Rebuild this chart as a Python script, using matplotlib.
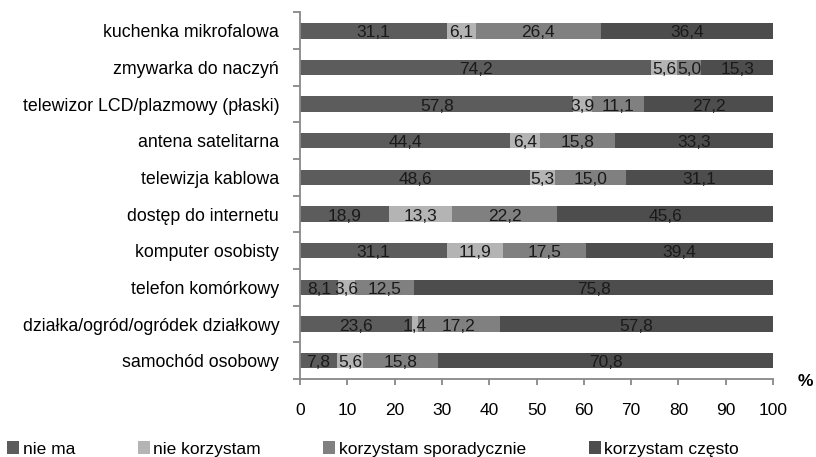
import matplotlib
matplotlib.use("Agg")
import matplotlib.pyplot as plt
import numpy as np
from matplotlib.patches import Patch

categories = ['kuchenka mikrofalowa', 'zmywarka do naczyń', 'telewizor LCD/plazmowy (płaski)',
              'antena satelitarna', 'telewizja kablowa', 'dostęp do internetu',
              'komputer osobisty', 'telefon komórkowy', 'działka/ogród/ogródek działkowy',
              'samochód osobowy']
nie_ma = [31.1, 74.2, 57.8, 44.4, 48.6, 18.9, 31.1, 8.1, 23.6, 7.8]
nie_korzystam = [6.1, 5.6, 3.9, 6.4, 5.3, 13.3, 11.9, 3.6, 1.4, 5.6]
sporadycznie = [26.4, 5.0, 11.1, 15.8, 15.0, 22.2, 17.5, 12.5, 17.2, 15.8]
czesto = [36.4, 15.3, 27.2, 33.3, 31.1, 45.6, 39.4, 75.8, 57.8, 70.8]
series_names = ['nie ma', 'nie korzystam', 'korzystam sporadycznie', 'korzystam często']
x_ticks = [0, 10, 20, 30, 40, 50, 60, 70, 80, 90, 100]

colors = ['#5c5c5c', '#b4b4b4', '#808080', '#4d4d4d']
series = [nie_ma, nie_korzystam, sporadycznie, czesto]

plt.rcParams['font.family'] = ['Liberation Sans', 'DejaVu Sans']

fig = plt.figure(figsize=(8.16, 4.57), dpi=100)
ax = fig.add_axes([300/816, 78/457, 473/816, 366.5/457])

y = np.arange(len(categories))
left = np.zeros(len(categories))
for vals, col, name in zip(series, colors, series_names):
    vals = np.array(vals)
    ax.barh(y, vals, left=left, height=0.42, color=col, label=name, linewidth=0)
    for yi, l, v in zip(y, left, vals):
        ax.annotate(f"{v:.1f}".replace('.', ','), (l + v / 2, yi), xytext=(0, -1.5),
                    textcoords='offset points', ha='center', va='center',
                    fontsize=12.5, color='#1a1a1a')
    left += vals

ax.set_xlim(0, 100)
ax.set_ylim(len(categories) - 0.5, -0.5)

spine_col = '#888888'
for s in ['top', 'right']:
    ax.spines[s].set_visible(False)
for s in ['left', 'bottom']:
    ax.spines[s].set_color(spine_col)
    ax.spines[s].set_linewidth(1.3)

ax.set_xticks(x_ticks)
ax.set_xticklabels([str(t) for t in x_ticks], fontsize=12.5)
ax.tick_params(axis='x', direction='out', length=4, width=1.3, color=spine_col, pad=13)

ax.set_yticks(np.arange(len(categories) + 1) - 0.5)
ax.set_yticklabels([])
ax.tick_params(axis='y', which='major', direction='out', length=5, width=1.3, color=spine_col)
ax.set_yticks(y, minor=True)
ax.set_yticklabels(categories, minor=True, fontsize=12.8)
ax.tick_params(axis='y', which='minor', length=0, pad=15)

fig.text(805/816, (457-381)/457, '%', fontsize=12.5, fontweight='bold', ha='center', va='center')

handles = [Patch(facecolor=c, edgecolor='none') for c in colors]
fig.legend(handles, series_names, loc='center left', bbox_to_anchor=(7/816, (457-449)/457),
           ncol=4, frameon=False, fontsize=12.5, handlelength=0.7, handleheight=0.7,
           handletextpad=0.2, columnspacing=3.6, borderpad=0, borderaxespad=0)

fig.savefig('out.png', dpi=100)
